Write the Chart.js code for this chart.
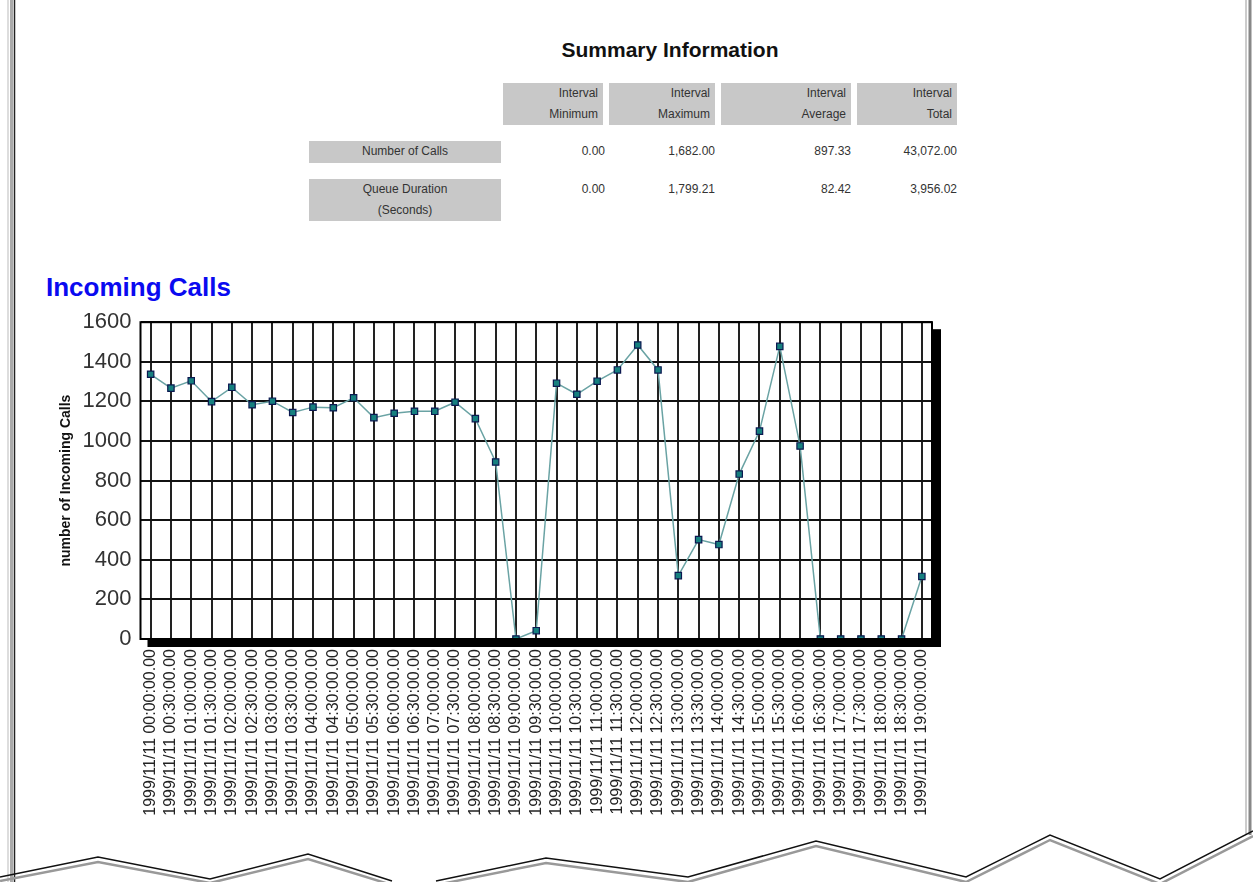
<!DOCTYPE html>
<html>
<head>
<meta charset="utf-8">
<script src="https://cdn.jsdelivr.net/npm/chart.js@4.4.1/dist/chart.umd.min.js"></script>
<style>
  body { margin: 0; background: #fff; font-family: "Liberation Sans", Arial, sans-serif; }
  #page { position: relative; width: 1253px; height: 882px; overflow: hidden; }
  .abs { position: absolute; }
  .cell { position: absolute; background: #c8c8c8; color: #333; font-size: 12px; line-height: 21px; }
  .hdr { text-align: right; padding-right: 5px; box-sizing: border-box; }
  .lbl { text-align: center; }
  .val { position: absolute; color: #333; font-size: 12px; text-align: right; width: 120px; line-height: 21px; }
  #wrap { position: absolute; left: 30px; top: 300px; width: 930px; height: 530px; }
</style>
</head>
<body>
<div id="page">
  <svg class="abs" style="left:0;top:0" width="1253" height="882">
    <line x1="8" y1="0" x2="8" y2="882" stroke="#ddd" stroke-width="2"/>
    <line x1="11.5" y1="0" x2="11.5" y2="882" stroke="#aaa" stroke-width="3"/>
    <line x1="14.5" y1="0" x2="14.5" y2="882" stroke="#222" stroke-width="1.5"/>
    <line x1="1246" y1="0" x2="1246" y2="835" stroke="#ccc" stroke-width="2"/>
    <line x1="1250" y1="0" x2="1250" y2="835" stroke="#888" stroke-width="3"/>
    <polyline fill="none" stroke="#999" stroke-width="2.5" points="0,881 98,862 210,883 308,859 392,885"/>
    <polyline fill="none" stroke="#999" stroke-width="2.5" points="436,885 546,863 688,882 816,846 966,882 1050,840 1160,884 1253,836"/>
    <polyline fill="none" stroke="#111" stroke-width="1.5" points="0,877 98,857 210,879 308,854 392,881"/>
    <polyline fill="none" stroke="#111" stroke-width="1.5" points="436,881 546,858 688,877 816,841 966,877 1050,835 1160,879 1253,831"/>
  </svg>

  <div class="abs" style="left:470px;top:38px;width:400px;text-align:center;font-weight:bold;font-size:21px;color:#111">Summary Information</div>

  <div class="cell hdr" style="left:503px;top:83px;width:100px;height:42px">Interval<br>Minimum</div>
  <div class="cell hdr" style="left:609px;top:83px;width:106px;height:42px">Interval<br>Maximum</div>
  <div class="cell hdr" style="left:721px;top:83px;width:130px;height:42px">Interval<br>Average</div>
  <div class="cell hdr" style="left:857px;top:83px;width:100px;height:42px">Interval<br>Total</div>

  <div class="cell lbl" style="left:309px;top:141px;width:192px;height:22px">Number of Calls</div>
  <div class="cell lbl" style="left:309px;top:179px;width:192px;height:42px">Queue Duration<br>(Seconds)</div>

  <div id="vals"></div>

  <div class="abs" style="left:46px;top:272px;font-weight:bold;font-size:26px;color:#0a0af0">Incoming Calls</div>

  <div id="wrap"><canvas id="myChart"></canvas></div>
</div>

<script>
var colNames = ["Interval Minimum", "Interval Maximum", "Interval Average", "Interval Total"];
var callsRow = ["0.00", "1,682.00", "897.33", "43,072.00"];
var queueRow = ["0.00", "1,799.21", "82.42", "3,956.02"];

var times = [
  "00:00", "00:30", "01:00", "01:30", "02:00", "02:30", "03:00", "03:30",
  "04:00", "04:30", "05:00", "05:30", "06:00", "06:30", "07:00", "07:30",
  "08:00", "08:30", "09:00", "09:30", "10:00", "10:30", "11:00", "11:30",
  "12:00", "12:30", "13:00", "13:30", "14:00", "14:30", "15:00", "15:30",
  "16:00", "16:30", "17:00", "17:30", "18:00", "18:30", "19:00"
];
var calls = [
  1337, 1267, 1304, 1199, 1271, 1183, 1201, 1144,
  1171, 1168, 1218, 1118, 1140, 1150, 1150, 1196,
  1113, 894, 0, 42, 1292, 1236, 1302, 1359,
  1485, 1359, 320, 502, 477, 833, 1050, 1478,
  975, 0, 0, 0, 0, 0, 316
];
var yTicks = [0, 200, 400, 600, 800, 1000, 1200, 1400, 1600];

// table values
var rights = [605, 715, 851, 957];
var html = "";
for (var i = 0; i < rights.length; i++) {
  html += '<div class="val" style="left:' + (rights[i] - 120) + 'px;top:141px">' + callsRow[i] + '</div>';
  html += '<div class="val" style="left:' + (rights[i] - 120) + 'px;top:179px">' + queueRow[i] + '</div>';
}
document.getElementById("vals").innerHTML = html;

var labels = times.map(function(t) { return "1999/11/11 " + t + ":00.00"; });

// frame + drop shadow around plot area
var framePlugin = {
  id: "frame",
  afterDraw: function(chart) {
    var a = chart.chartArea, c = chart.ctx;
    c.save();
    c.fillStyle = "#000";
    c.fillRect(a.right, a.top + 7, 9, a.bottom - a.top + 1);
    c.fillRect(a.left + 7, a.bottom, a.right - a.left + 2, 8);
    c.strokeStyle = "#000";
    c.lineWidth = 2;
    c.strokeRect(a.left, a.top, a.right - a.left, a.bottom - a.top);
    c.restore();
  }
};

var ctx = document.getElementById("myChart");
var myChart = new Chart(ctx, {
  type: "line",
  data: {
    labels: labels,
    datasets: [{
      data: calls,
      borderColor: "#6aa3a4",
      borderWidth: 1.5,
      tension: 0,
      pointStyle: "rect",
      pointRadius: 4.5,
      pointBackgroundColor: "#16807f",
      pointBorderColor: "#0b1850",
      pointBorderWidth: 1.2
    }]
  },
  options: {
    responsive: true,
    maintainAspectRatio: false,
    animation: false,
    layout: { padding: { left: 0, right: 28, top: 17, bottom: 0 } },
    plugins: { legend: { display: false }, tooltip: { enabled: false } },
    scales: {
      x: {
        offset: true,
        grid: { offset: false, color: "#222", lineWidth: 2, drawTicks: false },
        border: { display: false },
        ticks: {
          autoSkip: false, minRotation: 90, maxRotation: 90, padding: 10,
          color: "#222", font: { family: "Liberation Sans", size: 16 }
        },
        afterFit: function(scale) { scale.height = 191; }
      },
      y: {
        min: 0, max: 1600,
        afterBuildTicks: function(scale) {
          scale.ticks = yTicks.map(function(v) { return { value: v }; });
        },
        grid: { color: "#111", lineWidth: 2, drawTicks: false },
        border: { display: false },
        ticks: {
          padding: 9, color: "#333", font: { family: "Liberation Sans", size: 22 },
          callback: function(v) { return String(v); }
        },
        title: {
          display: true, text: "number of Incoming Calls", color: "#111",
          font: { family: "Liberation Sans", size: 14, weight: "bold" },
          padding: { top: 28, bottom: 0 }
        },
        afterFit: function(scale) { scale.width = 110.5; }
      }
    }
  },
  plugins: [framePlugin]
});
</script>
</body>
</html>
